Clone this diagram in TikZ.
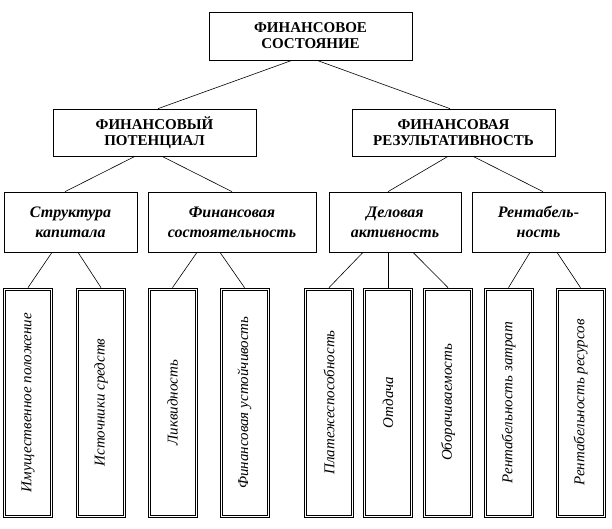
\documentclass[tikz,border=0pt]{standalone}
\usepackage{fontspec}
\usepackage{graphicx}
\setmainfont{Liberation Serif}
\begin{document}
\begin{tikzpicture}[x=1pt,y=-1pt,line width=0.7pt,
  head/.style={draw,align=center,font=\fontsize{15}{16}\selectfont\bfseries,
    minimum width=203pt,minimum height=47pt,inner sep=0pt},
  group/.style={draw,align=center,font=\fontsize{16}{20}\selectfont\bfseries\itshape,
    minimum height=60pt,inner sep=0pt},
  leaf/.style={draw,line width=0.8pt,
    minimum width=49pt,minimum height=229pt,inner sep=0pt,
    font=\fontsize{15}{16}\selectfont\itshape},
  link/.style={draw,line width=0.6pt}]
\useasboundingbox (0,0) rectangle (612,528);

% levels 1 and 2
\node[head,minimum height=48pt] (fs) at (310.5,36) {ФИНАНСОВОЕ\\СОСТОЯНИЕ};
\node[head] (fp) at (154.5,132.5) {ФИНАНСОВЫЙ\\ПОТЕНЦИАЛ};
\node[head] (fr) at (453.5,132.5) {ФИНАНСОВАЯ\\РЕЗУЛЬТАТИВНОСТЬ};

% level 3
\node[group,minimum width=133pt] (sk) at (70.5,222) {Структура\\капитала};
\node[group,minimum width=168pt] (fsost) at (232,222) {Финансовая\\состоятельность};
\node[group,minimum width=132pt] (da) at (395,222) {Деловая\\активность};
\node[group,minimum width=133pt] (rent) at (538.5,222) {Рентабель-\\ность};

% level 4, framed twice
\foreach \n/\x/\t in {imush/28/Имущественное положение,
    istoch/101/Источники средств,
    likv/172.5/Ликвидность,
    ust/244.5/Финансовая устойчивость,
    plat/329/Платежеспособность,
    otd/388/Отдача,
    obor/448/Оборачиваемость,
    rzatr/508.5/Рентабельность затрат,
    rres/580.5/Рентабельность ресурсов}
{
  \node[leaf] (\n) at (\x,402.5) {\rotatebox{90}{\t}};
  \draw[line width=0.5pt] ([shift={(2.5pt,-2.5pt)}]\n.north west)
    rectangle ([shift={(-2.5pt,2.5pt)}]\n.south east);
}

% connectors
\draw[link] ([xshift=-18.5pt]fs.south) -- ([xshift=3.5pt]fp.north);
\draw[link] ([xshift=6.5pt]fs.south) -- ([xshift=-3.5pt]fr.north);
\draw[link] ([xshift=-19.5pt]fp.south) -- ([xshift=-5.5pt]sk.north);
\draw[link] ([xshift=7.5pt]fp.south) -- (fsost.north);
\draw[link] ([xshift=-5.5pt]fr.south) -- ([xshift=-7pt]da.north);
\draw[link] ([xshift=19.5pt]fr.south) -- ([xshift=4.5pt]rent.north);
\draw[link] ([xshift=-18.5pt]sk.south) -- (imush.north);
\draw[link] ([xshift=7.5pt]sk.south) -- (istoch.north);
\draw[link] ([xshift=-35pt]fsost.south) -- (likv.north);
\draw[link] ([xshift=-12pt]fsost.south) -- (ust.north);
\draw[link] ([xshift=-32pt]da.south) -- (plat.north);
\draw[link] ([xshift=-7pt]da.south) -- (otd.north);
\draw[link] ([xshift=18pt]da.south) -- (obor.north);
\draw[link] ([xshift=-8.5pt]rent.south) -- (rzatr.north);
\draw[link] ([xshift=18.5pt]rent.south) -- (rres.north);
\end{tikzpicture}
\end{document}
